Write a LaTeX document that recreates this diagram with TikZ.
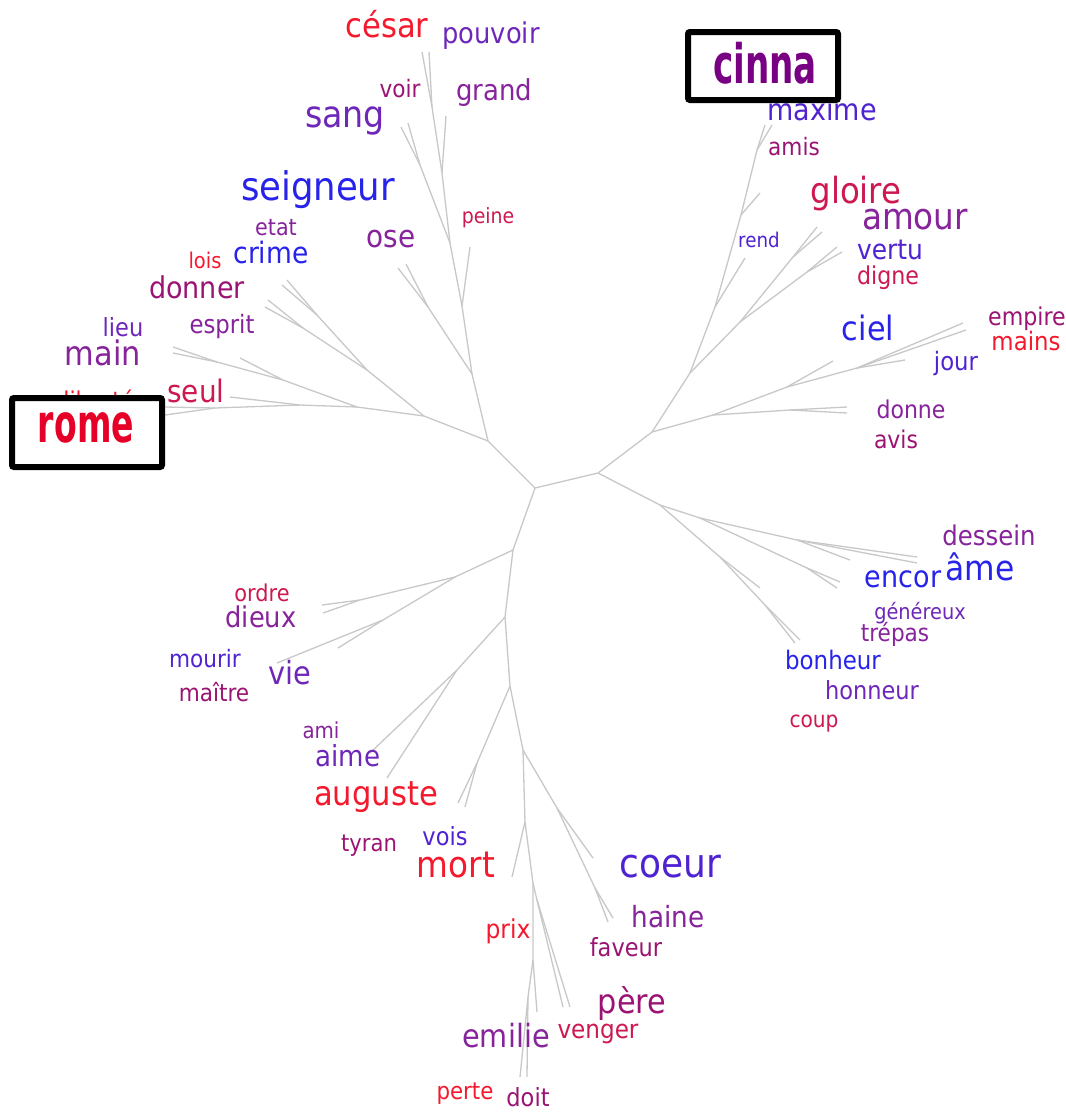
\documentclass[tikz,border=0pt]{standalone}
\usepackage{fontspec}
\setmainfont{DejaVu Sans}[FakeStretch=0.9]
\usepackage{graphicx}
\definecolor{cred}{RGB}{245,25,45}
\definecolor{ccrim}{RGB}{205,25,80}
\definecolor{cmag}{RGB}{155,20,115}
\definecolor{cpurp}{RGB}{135,35,155}
\definecolor{cviol}{RGB}{110,40,185}
\definecolor{cindigo}{RGB}{80,35,210}
\definecolor{cblue}{RGB}{40,35,235}
\definecolor{crome}{RGB}{230,0,40}
\definecolor{ccinna}{RGB}{120,0,130}
\definecolor{cedge}{RGB}{200,200,200}
\newcommand\wfs[1]{\fontsize{#1}{#1}\selectfont}
\tikzset{
  w/.style={anchor=base, inner sep=0pt, font=\wfs{#1}},
  edge/.style={draw=cedge, line width=1.3pt, line join=round},
  hbox/.style={draw=black, fill=white, line width=6pt, rounded corners=2pt, inner sep=0pt},
}
\begin{document}
\begin{tikzpicture}[x=1pt,y=-1pt]
\useasboundingbox[fill=white] (0,0) rectangle (1066,1112);
% ---------- tree coordinates ----------
\coordinate (c0) at (535,488);
\coordinate (j1) at (488,441);
\coordinate (j2) at (598,473);
\coordinate (j3) at (513,550);
% up
\coordinate (u1) at (472,374);
\coordinate (u2) at (462,306);
\coordinate (u3) at (450,243);
\coordinate (u4) at (442,173);
\coordinate (u5) at (432,107);
\coordinate (lcesar) at (422,52);
\coordinate (lpouv) at (429,52);
\coordinate (lgrand) at (446,116);
\coordinate (s1) at (420,165);
\coordinate (lsang1) at (401,127);
\coordinate (lsang2) at (408,123);
\coordinate (lpeine) at (470,247);
\coordinate (o1) at (428,307);
\coordinate (lose1) at (398,268);
\coordinate (lose2) at (406,264);
% left
\coordinate (l1) at (424,416);
\coordinate (k1) at (367,370);
\coordinate (k2) at (317,315);
\coordinate (lcrime1) at (287,280);
\coordinate (lcrime2) at (282,285);
\coordinate (k3) at (303,328);
\coordinate (ldon1) at (268,300);
\coordinate (ldon2) at (265,307);
\coordinate (m1) at (357,407);
\coordinate (m2) at (283,380);
\coordinate (m3) at (217,362);
\coordinate (lmain1) at (173,347);
\coordinate (lmain2) at (173,353);
\coordinate (lesp) at (240,358);
\coordinate (rb) at (300,405);
\coordinate (lseul) at (230,397);
\coordinate (rc) at (215,408);
\coordinate (lrome1) at (165,407);
\coordinate (lrome2) at (165,415);
% right upper
\coordinate (q1) at (652,432);
\coordinate (q2) at (713,415);
\coordinate (q2d) at (790,410);
\coordinate (ldonne1) at (847,407);
\coordinate (ldonne2) at (847,413);
\coordinate (q3) at (787,387);
\coordinate (lciel) at (833,361);
\coordinate (q4) at (857,368);
\coordinate (ljour) at (905,360);
\coordinate (lemp1) at (963,323);
\coordinate (lemp2) at (966,330);
\coordinate (q5) at (690,373);
\coordinate (q6) at (740,322);
\coordinate (q6g) at (793,257);
\coordinate (lglo1) at (817,227);
\coordinate (lglo2) at (822,232);
\coordinate (q6v) at (807,272);
\coordinate (lver1) at (837,247);
\coordinate (lver2) at (842,252);
\coordinate (q7) at (715,307);
\coordinate (lrend1) at (745,258);
\coordinate (q8) at (741,215);
\coordinate (lrend2) at (760,193);
\coordinate (q9) at (757,150);
\coordinate (lmax1) at (765,125);
\coordinate (lmax2) at (772,125);
% right lower
\coordinate (p1) at (660,505);
\coordinate (p2) at (700,518);
\coordinate (p3) at (797,540);
\coordinate (lame1) at (917,557);
\coordinate (lame2) at (917,563);
\coordinate (lame3) at (850,560);
\coordinate (p4) at (807,568);
\coordinate (lenc1) at (840,582);
\coordinate (lenc2) at (837,588);
\coordinate (p5) at (720,557);
\coordinate (lbon1) at (760,588);
\coordinate (p6) at (765,605);
\coordinate (lbon2) at (800,640);
\coordinate (lbon3) at (795,643);
% bottom
\coordinate (v1) at (455,577);
\coordinate (v2) at (360,600);
\coordinate (ldieux1) at (322,605);
\coordinate (ldieux2) at (323,613);
\coordinate (v3) at (383,620);
\coordinate (lvie1) at (277,663);
\coordinate (lvie2) at (338,648);
\coordinate (d2) at (505,617);
\coordinate (a1) at (457,670);
\coordinate (laime) at (370,753);
\coordinate (laug) at (387,778);
\coordinate (d3) at (510,686);
\coordinate (t1) at (477,763);
\coordinate (lt1) at (458,803);
\coordinate (lt2) at (465,807);
\coordinate (d4) at (523,750);
\coordinate (h0) at (557,808);
\coordinate (lcoeur) at (593,858);
\coordinate (h1) at (595,888);
\coordinate (lhai1) at (613,918);
\coordinate (lhai2) at (608,922);
\coordinate (d5) at (525,822);
\coordinate (lmort) at (512,877);
\coordinate (d6) at (533,883);
\coordinate (e0) at (537,900);
\coordinate (lpere1) at (563,1007);
\coordinate (lpere2) at (570,1007);
\coordinate (e1) at (533,960);
\coordinate (le1) at (537,1012);
\coordinate (e2) at (528,997);
\coordinate (lemi1) at (520,1077);
\coordinate (lemi2) at (527,1077);
% ---------- edges ----------
\draw[edge] (c0)--(j1); \draw[edge] (c0)--(j2); \draw[edge] (c0)--(j3);
\draw[edge] (j1)--(u1)--(u2)--(u3)--(u4)--(u5)--(lcesar);
\draw[edge] (u5)--(lpouv); \draw[edge] (u4)--(lgrand);
\draw[edge] (u3)--(s1)--(lsang1); \draw[edge] (s1)--(lsang2);
\draw[edge] (u2)--(lpeine);
\draw[edge] (u1)--(o1)--(lose1); \draw[edge] (o1)--(lose2);
\draw[edge] (j1)--(l1)--(k1)--(k2)--(lcrime1); \draw[edge] (k2)--(lcrime2);
\draw[edge] (k1)--(k3)--(ldon1); \draw[edge] (k3)--(ldon2);
\draw[edge] (l1)--(m1)--(m2)--(m3)--(lmain1); \draw[edge] (m3)--(lmain2);
\draw[edge] (m2)--(lesp);
\draw[edge] (m1)--(rb)--(lseul); \draw[edge] (rb)--(rc)--(lrome1); \draw[edge] (rc)--(lrome2);
\draw[edge] (j2)--(q1)--(q2)--(q2d)--(ldonne1); \draw[edge] (q2d)--(ldonne2);
\draw[edge] (q2)--(q3)--(lciel); \draw[edge] (q3)--(q4)--(ljour);
\draw[edge] (q4)--(lemp1); \draw[edge] (q4)--(lemp2);
\draw[edge] (q1)--(q5)--(q6)--(q6g)--(lglo1); \draw[edge] (q6g)--(lglo2);
\draw[edge] (q6)--(q6v)--(lver1); \draw[edge] (q6v)--(lver2);
\draw[edge] (q5)--(q7)--(lrend1); \draw[edge] (q7)--(q8)--(lrend2);
\draw[edge] (q8)--(q9)--(lmax1); \draw[edge] (q9)--(lmax2);
\draw[edge] (j2)--(p1)--(p2)--(p3)--(lame1); \draw[edge] (p3)--(lame2); \draw[edge] (p3)--(lame3);
\draw[edge] (p2)--(p4)--(lenc1); \draw[edge] (p4)--(lenc2);
\draw[edge] (p1)--(p5)--(lbon1); \draw[edge] (p5)--(p6)--(lbon2); \draw[edge] (p6)--(lbon3);
\draw[edge] (j3)--(v1)--(v2)--(ldieux1); \draw[edge] (v2)--(ldieux2);
\draw[edge] (v1)--(v3)--(lvie1); \draw[edge] (v3)--(lvie2);
\draw[edge] (j3)--(d2)--(a1)--(laime); \draw[edge] (a1)--(laug);
\draw[edge] (d2)--(d3)--(t1)--(lt1); \draw[edge] (t1)--(lt2);
\draw[edge] (d3)--(d4)--(h0)--(lcoeur); \draw[edge] (h0)--(h1)--(lhai1); \draw[edge] (h1)--(lhai2);
\draw[edge] (d4)--(d5)--(lmort); \draw[edge] (d5)--(d6)--(e0)--(lpere1); \draw[edge] (e0)--(lpere2);
\draw[edge] (d6)--(e1)--(le1); \draw[edge] (e1)--(e2)--(lemi1); \draw[edge] (e2)--(lemi2);
% ---------- words ----------
\node[w=34, text=cred] (wcesar) at (387,37) {césar};
\node[w=28.6, text=cviol] (wpouvoir) at (491,43) {pouvoir};
\node[w=24, text=cmag] (wvoir) at (400,97) {voir};
\node[w=28.8, text=cpurp] (wgrand) at (494,100) {grand};
\node[w=37, text=cviol] (wsang) at (345,127) {sang};
\node[w=39.4, text=cblue] (wseigneur) at (318,200) {seigneur};
\node[w=21, text=ccrim] (wpeine) at (488,223) {peine};
\node[w=31, text=cpurp] (wose) at (391,247) {ose};
\node[w=23, text=cpurp] (wetat) at (276,235) {etat};
\node[w=21.7, text=cred] (wlois) at (205,268) {lois};
\node[w=29.5, text=cblue] (wcrime) at (271,263) {crime};
\node[w=30, text=cmag] (wdonner) at (197,298) {donner};
\node[w=25.3, text=cpurp] (wesprit) at (222,333) {esprit};
\node[w=25, text=cviol] (wlieu) at (123,336) {lieu};
\node[w=33.8, text=cpurp] (wmain) at (103,365) {main};
\node[w=31, text=ccrim] (wseul) at (196,402) {seul};
\node[w=24.5, text=cred] (wliberte) at (99,409) {liberté};
\node[w=30, text=cindigo] (wmaxime) at (822,120) {maxime};
\node[w=24, text=cmag] (wamis) at (794,155) {amis};
\node[w=36, text=ccrim] (wgloire) at (856,203) {gloire};
\node[w=36.3, text=cpurp] (wamour) at (915,229) {amour};
\node[w=20.3, text=cindigo] (wrend) at (759,247) {rend};
\node[w=27.7, text=cindigo] (wvertu) at (890,259) {vertu};
\node[w=24.6, text=ccrim] (wdigne) at (888,284) {digne};
\node[w=33.6, text=cblue] (wciel) at (868,340) {ciel};
\node[w=24.6, text=cmag] (wempire) at (1027,325) {empire};
\node[w=25.4, text=cred] (wmains) at (1026,350) {mains};
\node[w=25.3, text=cindigo] (wjour) at (956,370) {jour};
\node[w=24.5, text=cpurp] (wdonne) at (911,418) {donne};
\node[w=24.4, text=cmag] (wavis) at (896,448) {avis};
\node[w=27.1, text=cpurp] (wdessein) at (989,545) {dessein};
\node[w=34.8, text=cblue] (wame) at (980,580) {âme};
\node[w=30, text=cblue] (wencor) at (903,587) {encor};
\node[w=21.5, text=cviol] (wgenereux) at (920,619) {généreux};
\node[w=24, text=cpurp] (wtrepas) at (895,641) {trépas};
\node[w=25.5, text=cblue] (wbonheur) at (833,669) {bonheur};
\node[w=25, text=cviol] (whonneur) at (872,699) {honneur};
\node[w=22.4, text=ccrim] (wcoup) at (814,727) {coup};
\node[w=40, text=cindigo] (wcoeur) at (670,877) {coeur};
\node[w=29.2, text=cpurp] (whaine) at (668,927) {haine};
\node[w=25, text=cmag] (wfaveur) at (626,956) {faveur};
\node[w=33.7, text=cmag] (wpere) at (632,1013) {père};
\node[w=25.7, text=ccrim] (wvenger) at (598,1038) {venger};
\node[w=23.2, text=ccrim] (wordre) at (262,601) {ordre};
\node[w=28.6, text=cpurp] (wdieux) at (261,627) {dieux};
\node[w=24, text=cindigo] (wmourir) at (205,667) {mourir};
\node[w=32, text=cviol] (wvie) at (290,684) {vie};
\node[w=24, text=cmag] (wmaitre) at (214,701) {maître};
\node[w=22, text=cpurp] (wami) at (321,738) {ami};
\node[w=29, text=cviol] (waime) at (348,766) {aime};
\node[w=34, text=cred] (wauguste) at (376,805) {auguste};
\node[w=23.5, text=cmag] (wtyran) at (369,851) {tyran};
\node[w=25, text=cindigo] (wvois) at (445,845) {vois};
\node[w=36.3, text=cred] (wmort) at (456,877) {mort};
\node[w=26, text=cred] (wprix) at (508,938) {prix};
\node[w=32, text=cpurp] (wemilie) at (506,1047) {emilie};
\node[w=23.7, text=cred] (wperte) at (465,1099) {perte};
\node[w=25, text=cmag] (wdoit) at (528,1106) {doit};
% ---------- highlighted boxes ----------
\node[hbox, minimum width=150pt, minimum height=69pt] (romebox) at (87,432.5) {};
\node[hbox, minimum width=150pt, minimum height=68pt] (cinnabox) at (763,66) {};
\node[w=36.8, text=crome] (wrome) at (86,442) {\scalebox{1}[1.45]{\bfseries rome}};
\node[w=38, text=ccinna] (wcinna) at (765,83) {\scalebox{1}[1.43]{\bfseries cinna}};
\end{tikzpicture}
\end{document}
